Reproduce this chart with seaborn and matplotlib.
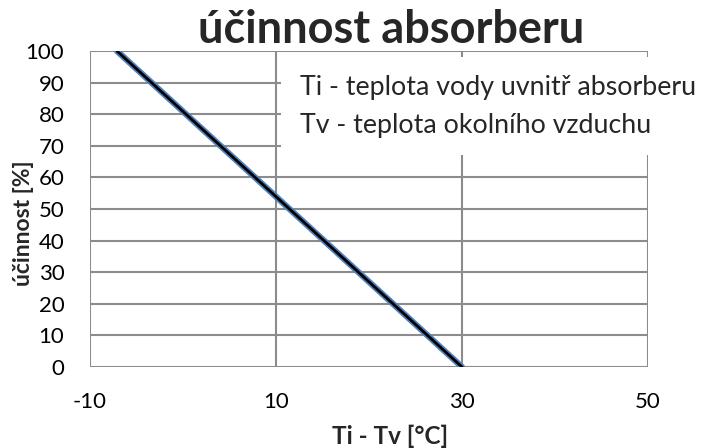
import matplotlib
matplotlib.use("Agg")
import matplotlib.pyplot as plt
from matplotlib.patches import Rectangle
import seaborn as sns
import pandas as pd

# Efficiency of the absorber vs. temperature difference
dt = [-7.1, 30.0]          # Ti - Tv [°C]
eff = [100.0, 0.0]         # účinnost [%]
x_ticks = [-10, 10, 30, 50]
y_ticks = list(range(0, 101, 10))
notes = ["Ti - teplota vody uvnitř absorberu", "Tv - teplota okolního vzduchu"]

sns.set_theme(style="white")
plt.rcParams['font.family'] = ['Lato', 'DejaVu Sans']
plt.rcParams['axes.unicode_minus'] = False

df = pd.DataFrame({"dt": dt, "eff": eff})

W, H = 702, 448
fig = plt.figure(figsize=(W / 100, H / 100), dpi=100)
ax = fig.add_axes([90 / W, 1 - 367 / H, (648 - 90) / W, (367 - 51) / H])

grid_c = "#8c8c8c"
for yv in y_ticks:
    ax.axhline(yv, color=grid_c, lw=1.5, zorder=1)
for xv in x_ticks:
    ax.axvline(xv, color=grid_c, lw=1.5, zorder=1)

sns.lineplot(data=df, x="dt", y="eff", ax=ax, color="#4f81bd", lw=4.5, zorder=3)
sns.lineplot(data=df, x="dt", y="eff", ax=ax, color="black", lw=2.0, zorder=4)

ax.set_xlim(-10, 50)
ax.set_ylim(0, 100)
ax.set_xticks(x_ticks)
ax.set_yticks(y_ticks)
ax.tick_params(axis="both", labelsize=16, colors="black", length=7, width=1.5,
               color=grid_c, direction="out")
ax.tick_params(axis="x", pad=11)
ax.tick_params(axis="y", pad=11.5)
for s in ax.spines.values():
    s.set_visible(False)
ax.set_xlabel("")
ax.set_ylabel("")

fig.text(390 / W, 1 - 444 / H, "Ti - Tv [°C]", ha="center", va="baseline",
         fontsize=17.5, fontweight="bold")
fig.text(24 / W, 1 - 223 / H, "účinnost [%]", ha="center", va="center",
         rotation=90, fontsize=16.5, fontweight="bold")

fig.text(391 / W, 1 - 43 / H, "účinnost absorberu", ha="center", va="baseline",
         fontsize=32.5, fontweight="bold")

# white panel holding the explanatory notes
fig.patches.append(Rectangle((281 / W, 1 - 155 / H), (652 - 281) / W, (155 - 57) / H,
                             transform=fig.transFigure, facecolor="white",
                             edgecolor="none", zorder=5))
fig.text(300 / W, 1 - 87 / H, notes[0], fontsize=19.3, va="center", ha="left", zorder=6)
fig.text(300 / W, 1 - 125 / H, notes[1], fontsize=19.3, va="center", ha="left", zorder=6)

fig.savefig("out.png", dpi=100)
